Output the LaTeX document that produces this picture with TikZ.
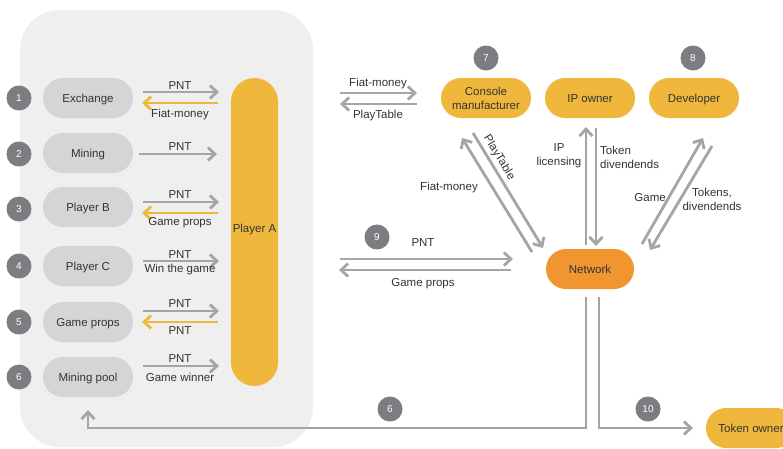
\documentclass[tikz,border=0pt]{standalone}
\usepackage{fontspec}
\setmainfont{Liberation Sans}
\usetikzlibrary{arrows.meta,calc}
\definecolor{panelgray}{HTML}{EFEFEF}
\definecolor{pillgray}{HTML}{D5D5D5}
\definecolor{numgray}{HTML}{7C7D80}
\definecolor{linegray}{HTML}{A5A5A5}
\definecolor{goldpill}{HTML}{EFB83C}
\definecolor{orangepill}{HTML}{F0952F}
\definecolor{txt}{HTML}{333333}
\begin{document}
\begin{tikzpicture}[x=1pt,y=-1pt,
  every node/.style={text=txt, font=\fontsize{11.5}{14}\selectfont, inner sep=0pt},
  one/.style={text height=8.3pt, text depth=0pt},
  numdot/.style={circle, fill=numgray, minimum size=25pt, text=white, font=\fontsize{10}{11}\selectfont, text height=7.2pt, text depth=0pt},
  graypill/.style={one, fill=pillgray, rounded corners=20pt, minimum width=90pt, minimum height=40pt},
  goldbox/.style={fill=goldpill, rounded corners=20pt, minimum width=90pt, minimum height=40pt},
  netbox/.style={one, fill=orangepill, rounded corners=20pt, minimum width=88pt, minimum height=40pt},
  flow/.style={draw=linegray, line width=2.8pt, -{Straight Barb[length=7pt,width=13pt]}},
  yflow/.style={draw=goldpill, line width=2.8pt, -{Straight Barb[length=7pt,width=13pt]}}
]
\useasboundingbox (0,0) rectangle (783,448);
\clip (0,0) rectangle (783,448);
\fill[white] (0,0) rectangle (783,448);

% left panel
\fill[panelgray, rounded corners=40pt] (20,10) rectangle (313,447);

% numbered markers
\node[numdot] (n1) at (19,98) {1};
\node[numdot] (n2) at (19,154) {2};
\node[numdot] (n3) at (19,209) {3};
\node[numdot] (n4) at (19,266) {4};
\node[numdot] (n5) at (19,322) {5};
\node[numdot] (n6) at (19,377) {6};

% actors on the left
\node[graypill] (exch) at (88,98) {Exchange};
\node[graypill] (mine) at (88,153) {Mining};
\node[graypill] (pb) at (88,207) {Player B};
\node[graypill] (pc) at (88,266) {Player C};
\node[graypill] (gp) at (88,322) {Game props};
\node[graypill] (pool) at (88,377) {Mining pool};

% player A column
\node[fill=goldpill, rounded corners=23.5pt, minimum width=47pt, minimum height=308pt] (pa) at (254.5,232) {};
\node[one] (pal) at (254.5,228) {Player A};

% flows between left actors and player A
\coordinate (e1) at (143,92);  \coordinate (e2) at (219,92);
\coordinate (e3) at (218,103); \coordinate (e4) at (142,103);
\draw[flow] (e1) -- (e2);
\draw[yflow] (e3) -- (e4);
\node[one] at (180,85) {PNT};
\node[one] at (180,113) {Fiat-money};

\coordinate (m1) at (139,154); \coordinate (m2) at (217,154);
\draw[flow] (m1) -- (m2);
\node[one] at (180,146) {PNT};

\coordinate (b1) at (143,202); \coordinate (b2) at (219,202);
\coordinate (b3) at (218,213); \coordinate (b4) at (142,213);
\draw[flow] (b1) -- (b2);
\draw[yflow] (b3) -- (b4);
\node[one] at (180,194) {PNT};
\node[one] at (180,221) {Game props};

\coordinate (c1) at (143,261); \coordinate (c2) at (219,261);
\draw[flow] (c1) -- (c2);
\node[one] at (180,254) {PNT};
\node[one] at (180,268) {Win the game};

\coordinate (g1) at (143,311); \coordinate (g2) at (219,311);
\coordinate (g3) at (218,322); \coordinate (g4) at (142,322);
\draw[flow] (g1) -- (g2);
\draw[yflow] (g3) -- (g4);
\node[one] at (180,303) {PNT};
\node[one] at (180,330) {PNT};

\coordinate (p1) at (143,366); \coordinate (p2) at (219,366);
\draw[flow] (p1) -- (p2);
\node[one] at (180,358) {PNT};
\node[one] at (180,377) {Game winner};

% right side actors
\node[goldbox, align=center] (cm) at (486,98) {Console\\manufacturer};
\node[goldbox, one] (ip) at (590,98) {IP owner};
\node[goldbox, one] (dev) at (694,98) {Developer};
\node[netbox] (net) at (590,269) {Network};
\node[goldbox, one] (tok) at (751,428) {Token owner};

\node[numdot] (n7) at (486,58) {7};
\node[numdot] (n8) at (693,58) {8};
\node[numdot] (n9) at (377,237) {9};
\node[numdot] (n6b) at (390,409) {6};
\node[numdot] (n10) at (648,409) {10};

% player A <-> console manufacturer
\coordinate (f1) at (340,93);  \coordinate (f2) at (417,93);
\coordinate (f3) at (417,104); \coordinate (f4) at (340,104);
\draw[flow] (f1) -- (f2);
\draw[flow] (f3) -- (f4);
\node[one] at (378,82) {Fiat-money};
\node[one] at (378,114) {PlayTable};

% player A <-> network
\coordinate (q1) at (340,259); \coordinate (q2) at (513,259);
\coordinate (q3) at (511,270); \coordinate (q4) at (339,270);
\draw[flow] (q1) -- (q2);
\draw[flow] (q3) -- (q4);
\node[one] at (423,242) {PNT};
\node[one] at (423,282) {Game props};

% console manufacturer <-> network
\coordinate (k1) at (532,252); \coordinate (k2) at (462,138);
\coordinate (k3) at (473,133); \coordinate (k4) at (543,248);
\draw[flow] (k1) -- (k2);
\draw[flow] (k3) -- (k4);
\node[one, rotate=-58.7] at (500,157) {PlayTable};
\node[one] at (449,186) {Fiat-money};

% IP owner <-> network
\coordinate (i1) at (586,245); \coordinate (i2) at (586,127);
\coordinate (i3) at (596,128); \coordinate (i4) at (596,246);
\draw[flow] (i1) -- (i2);
\draw[flow] (i3) -- (i4);
\node[align=center] at (559,156) {IP\\licensing};
\node[align=left, anchor=west] at (600,157) {Token\\divendends};

% developer <-> network
\coordinate (d1) at (642,244); \coordinate (d2) at (703,138);
\coordinate (d3) at (712,146); \coordinate (d4) at (650,250);
\draw[flow] (d1) -- (d2);
\draw[flow] (d3) -- (d4);
\node[one, anchor=east] at (666,197) {Game};
\node[align=center] at (712,199) {Tokens,\\divendends};

% network payouts
\coordinate (w1) at (586,297); \coordinate (w2) at (88,410);
\coordinate (w3) at (599,297); \coordinate (w4) at (693,428);
\draw[flow] (w1) |- (88,428) -- (w2);
\draw[flow] (w3) |- (w4);
\end{tikzpicture}
\end{document}
